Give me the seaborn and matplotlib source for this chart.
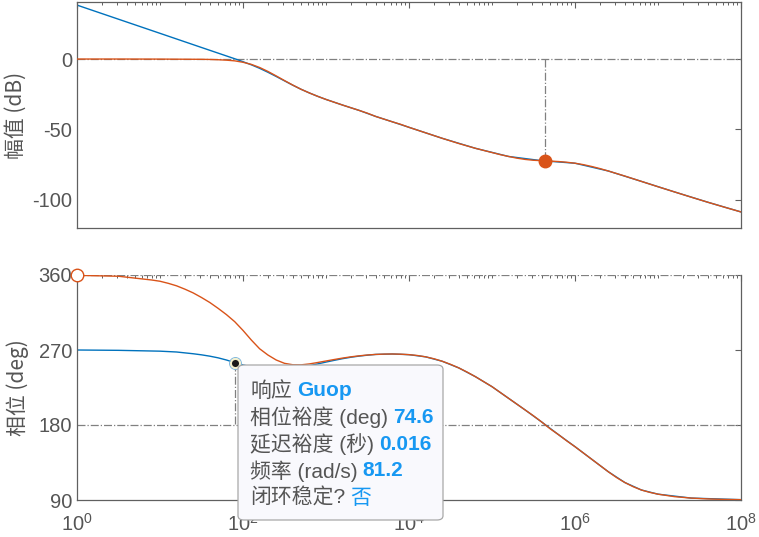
import numpy as np
import pandas as pd
import seaborn as sns
import matplotlib.pyplot as plt
from matplotlib.patches import FancyBboxPatch

# frequencies as log10(rad/s)
mag_cl_exp = [0.0, 0.5, 1.0, 1.5, 1.6, 1.7, 1.8, 1.9, 2.0, 2.1, 2.2, 2.3, 2.4, 2.5,
              2.6, 2.7, 2.8, 2.9, 3.0, 3.1, 3.2, 3.3, 3.4, 3.5, 3.6, 3.7, 3.8, 3.9,
              4.0, 4.2, 4.4, 4.6, 4.8, 5.0, 5.1, 5.2, 5.3, 5.4, 5.5, 5.6, 5.7, 5.8,
              5.9, 6.0, 6.1, 6.2, 6.3, 6.4, 6.5, 6.6, 6.7, 6.8, 6.9, 7.0, 7.2, 7.4,
              7.6, 7.8, 8.0]
mag_cl_db = [0.0, 0.0, -0.05, -0.2, -0.3, -0.5, -0.8, -1.3, -2.3, -3.8, -6.0, -8.8,
             -12.0, -15.3, -18.5, -21.5, -24.1, -26.5, -28.7, -30.7, -32.7, -34.6,
             -36.5, -38.5, -40.8, -42.7, -44.6, -46.4, -48.5, -52.4, -56.3, -60.0,
             -63.4, -66.4, -67.9, -69.2, -70.4, -71.3, -71.9, -72.2, -72.5, -72.8,
             -73.3, -74.0, -75.0, -76.3, -77.8, -79.5, -81.3, -83.1, -85.0, -86.9,
             -88.8, -90.7, -94.4, -98.1, -101.7, -105.2, -108.6]

mag_op_exp = [0.0, 1.0, 1.5, 1.7, 1.91, 2.0, 2.1, 2.2, 2.3, 2.4, 2.5, 2.6, 2.7, 2.8,
              2.9, 3.0, 3.2, 3.4, 3.6, 3.8, 4.0, 4.4, 4.8, 5.2, 5.6, 6.0, 6.4, 6.8,
              7.2, 7.6, 8.0]
mag_op_db = [38.3, 18.25, 8.2, 4.2, 0.0, -1.9, -4.1, -6.6, -9.4, -12.4, -15.5, -18.6,
             -21.5, -24.1, -26.5, -28.7, -32.7, -36.5, -40.8, -44.6, -48.5, -56.3,
             -63.4, -69.2, -72.2, -74.0, -79.5, -86.9, -94.4, -101.7, -108.6]

ph_cl_exp = [0.0, 0.5, 0.9, 1.0, 1.1, 1.2, 1.3, 1.4, 1.5, 1.6, 1.7, 1.8, 1.9, 2.0,
             2.1, 2.2, 2.3, 2.4, 2.5, 2.6, 2.7, 2.8, 2.9, 3.0, 3.1, 3.2, 3.3, 3.4,
             3.5, 3.6, 3.7, 3.8, 3.9, 4.0, 4.1, 4.2, 4.3, 4.4, 4.5, 4.6, 4.7, 4.8,
             4.9, 5.0, 5.1, 5.2, 5.3, 5.4, 5.5, 5.6, 5.7, 5.8, 5.9, 6.0, 6.1, 6.2,
             6.3, 6.4, 6.5, 6.6, 6.7, 6.8, 6.9, 7.0, 7.2, 7.4, 7.6, 7.8, 8.0]
ph_cl_deg = [359.6, 358.5, 354.0, 352.5, 350.0, 347.0, 343.0, 338.5, 333.0, 327.0,
             320.0, 312.5, 304.0, 293.5, 282.0, 271.5, 264.0, 258.0, 254.0, 252.3,
             252.2, 253.3, 255.0, 256.8, 258.6, 260.3, 261.8, 263.0, 264.0, 264.7,
             265.1, 265.2, 265.0, 264.4, 263.4, 261.8, 259.5, 256.5, 252.8, 248.5,
             243.5, 238.0, 232.0, 226.0, 219.0, 212.0, 205.0, 198.0, 191.0, 183.5,
             175.5, 168.5, 161.0, 154.0, 146.5, 139.0, 131.5, 124.0, 117.0, 111.0,
             106.0, 102.0, 99.2, 97.0, 94.0, 92.3, 91.3, 90.7, 90.4]

ph_op_exp = [0.0, 0.5, 1.0, 1.2, 1.4, 1.5, 1.6, 1.7, 1.8, 1.91, 2.0, 2.1, 2.2, 2.3,
             2.4, 2.5, 2.6, 2.7, 2.8, 2.9, 3.0, 3.1, 3.2, 3.3, 3.4, 3.5, 3.6, 3.8,
             4.0, 4.2, 4.4, 4.6, 4.8, 5.0, 5.2, 5.4, 5.6, 5.8, 6.0, 6.2, 6.4, 6.6,
             6.8, 7.0, 7.4, 8.0]
ph_op_deg = [270.0, 269.6, 268.6, 267.6, 265.5, 264.2, 262.6, 260.6, 258.0, 254.6,
             252.0, 249.8, 248.0, 246.8, 246.3, 246.5, 247.6, 249.2, 251.2, 253.3,
             255.5, 257.6, 259.6, 261.3, 262.7, 263.8, 264.7, 265.2, 264.4, 261.8,
             256.5, 248.5, 238.0, 226.0, 212.0, 198.0, 183.5, 168.5, 154.0, 139.0,
             124.0, 111.0, 102.0, 97.0, 92.3, 90.4]

# margins
pm_freq = 81.2
pm_phase = 254.6
gm_freq = 4.39e5
gm_mag = -72.3

tip_labels = ["响应", "相位裕度 (deg)", "延迟裕度 (秒)", "频率 (rad/s)", "闭环稳定?"]
tip_values = ["Guop", "74.6", "0.016", "81.2", "否"]

BLUE = "#0072BD"
ORANGE = "#D95319"
GRAY = "#808080"
AXC = "#606060"
TXT = "#555555"
TIPBLUE = "#1798F2"

sns.set_style("white")
fam = ["Liberation Sans", "Noto Sans CJK SC", "DejaVu Sans"]
plt.rcParams["font.family"] = fam
plt.rcParams["mathtext.fontset"] = "custom"
plt.rcParams["mathtext.rm"] = "Liberation Sans"
plt.rcParams["mathtext.it"] = "Liberation Sans"

fig = plt.figure(figsize=(7.59, 5.37), dpi=100)
ax1 = fig.add_axes([77 / 759, 1 - 228 / 537, 664 / 759, 226 / 537])
ax2 = fig.add_axes([77 / 759, 1 - 500 / 537, 664 / 759, 225 / 537])

mag_op = pd.DataFrame({"w": np.power(10.0, mag_op_exp), "v": mag_op_db})
mag_cl = pd.DataFrame({"w": np.power(10.0, mag_cl_exp), "v": mag_cl_db})
ph_op = pd.DataFrame({"w": np.power(10.0, ph_op_exp), "v": ph_op_deg})
ph_cl = pd.DataFrame({"w": np.power(10.0, ph_cl_exp), "v": ph_cl_deg})

# magnitude
ax1.axhline(0, color=GRAY, ls="-.", lw=0.9, zorder=1)
ax1.plot([gm_freq, gm_freq], [0, gm_mag], color=GRAY, ls="-.", lw=0.9, zorder=1)
sns.lineplot(data=mag_op, x="w", y="v", ax=ax1, color=BLUE, lw=1.0, zorder=2)
sns.lineplot(data=mag_cl, x="w", y="v", ax=ax1, color=ORANGE, lw=1.0, zorder=3)
ax1.plot(gm_freq, gm_mag, "o", ms=9, color=ORANGE, mec=ORANGE, zorder=4)

# phase
ax2.axhline(360, color=GRAY, ls="-.", lw=0.9, zorder=1)
ax2.axhline(180, color=GRAY, ls="-.", lw=0.9, zorder=1)
ax2.plot([pm_freq, pm_freq], [pm_phase, 180], color=GRAY, ls="-.", lw=0.9, zorder=1)
sns.lineplot(data=ph_op, x="w", y="v", ax=ax2, color=BLUE, lw=1.0, zorder=2)
sns.lineplot(data=ph_cl, x="w", y="v", ax=ax2, color=ORANGE, lw=1.0, zorder=3)
ax2.plot(1.0, 360, "o", ms=9, mfc="white", mec=ORANGE, mew=1.0, zorder=5, clip_on=False)
ax2.plot(pm_freq, pm_phase, "o", ms=8.5, mfc="none", mec="#7FB6DC", mew=0.8, zorder=5)
ax2.plot(pm_freq, pm_phase, "o", ms=6.5, mfc="#1A1A1A", mec="#F4F0CC", mew=1.4, zorder=6)

for ax in (ax1, ax2):
    ax.set_xscale("log")
    ax.set_xlim(1, 1e8)
    ax.set_xticks([1e0, 1e2, 1e4, 1e6, 1e8])
    ax.set_xticks([m * 10.0 ** k for k in range(8) for m in range(1, 10)
                   if not (m == 1 and k % 2 == 0)], minor=True)
    ax.tick_params(which="both", direction="in", top=True, right=True,
                   colors=AXC, labelcolor=TXT, labelsize=14.5)
    ax.tick_params(which="major", length=4, width=0.8)
    ax.tick_params(which="minor", length=2.2, width=0.7)
    ax.tick_params(axis="x", which="minor", labelbottom=False)
    for s in ax.spines.values():
        s.set_color(AXC)
        s.set_linewidth(0.9)
    ax.set_xlabel("")

ax1.set_ylim(-120, 40.5)
ax1.set_yticks([-100, -50, 0])
ax1.set_yticklabels(["-100", "-50", "0"])
ax1.tick_params(axis="x", labelbottom=False)
ax1.set_ylabel("幅值 (dB)", fontsize=15, color=TXT,
               family=["Noto Sans CJK SC", "DejaVu Sans"])
ax1.yaxis.set_label_coords(-0.076, 0.5)

ax2.set_ylim(90, 360)
ax2.set_yticks([90, 180, 270, 360])
ax2.set_xticklabels([r"$10^{0}$", r"$10^{2}$", r"$10^{4}$", r"$10^{6}$", r"$10^{8}$"])
ax2.tick_params(axis="x", pad=9)
ax2.spines["top"].set_visible(False)
ax2.set_ylabel("相位 (deg)", fontsize=15, color=TXT,
               family=["Noto Sans CJK SC", "DejaVu Sans"])
ax2.yaxis.set_label_coords(-0.072, 0.5)

# data tip
W, H = 759.0, 537.0
box = FancyBboxPatch((238 / W, 1 - 520 / H), 205 / W, 155 / H,
                     boxstyle="round,pad=0,rounding_size=0.008",
                     transform=fig.transFigure, facecolor="#F9F9FD",
                     edgecolor="#A8A8A8", lw=0.9, zorder=10)
fig.add_artist(box)

renderer = fig.canvas.get_renderer()
line_y = [391, 417.5, 444, 471, 498]
for lab, val, yy in zip(tip_labels, tip_values, line_y):
    t = fig.text(250 / W, 1 - yy / H, lab, fontsize=15, color=TXT,
                 va="center", ha="left", family=fam, zorder=11)
    bb = t.get_window_extent(renderer=renderer)
    bold = "bold" if val != "否" else "normal"
    fig.text((bb.x1 + 5) / W, 1 - yy / H, val, fontsize=15, color=TIPBLUE,
             va="center", ha="left", family=fam, fontweight=bold, zorder=11)

fig.savefig("out.png", dpi=100)
